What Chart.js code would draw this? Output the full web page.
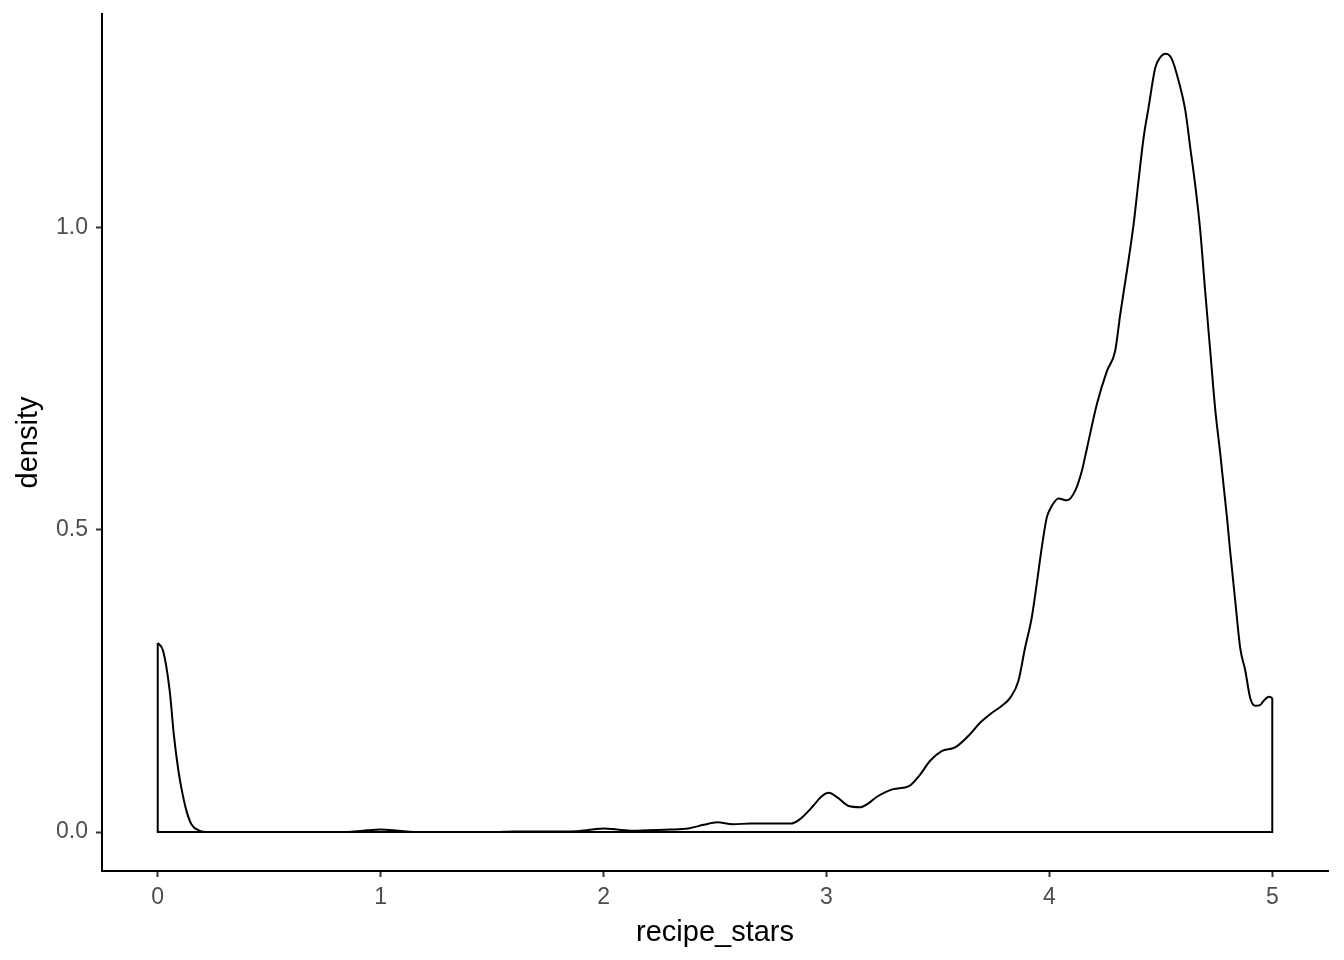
<!DOCTYPE html>
<html>
<head>
<meta charset="utf-8">
<script src="https://cdn.jsdelivr.net/npm/chart.js@4"></script>
<style>
  html, body { margin: 0; padding: 0; background: #ffffff; }
  canvas { display: block; }
</style>
</head>
<body>
<canvas id="c" width="1344" height="960"></canvas>
<script>
// recipe_stars grid (x) and estimated kernel density (y)
const starsX = [
  0, 0.024, 0.054, 0.072, 0.091, 0.106, 0.129, 0.151, 0.189, 0.22,
  0.3, 0.85, 0.92, 1.0, 1.08, 1.15, 1.5, 1.6, 1.85, 1.95,
  2.0, 2.06, 2.13, 2.2, 2.3, 2.38, 2.45, 2.51, 2.58, 2.66,
  2.75, 2.84, 2.88, 2.94, 2.975, 3.01, 3.05, 3.1, 3.15, 3.19,
  3.225, 3.3, 3.37, 3.42, 3.465, 3.517, 3.577, 3.644, 3.689, 3.734,
  3.79, 3.824, 3.861, 3.891, 3.921, 3.943, 3.966, 3.988, 4.004, 4.041,
  4.08, 4.116, 4.146, 4.168, 4.213, 4.258, 4.295, 4.318, 4.348, 4.378,
  4.4, 4.423, 4.445, 4.475, 4.497, 4.523, 4.55, 4.58, 4.61, 4.632,
  4.654, 4.677, 4.699, 4.722, 4.744, 4.767, 4.782, 4.797, 4.811, 4.834,
  4.856, 4.879, 4.901, 4.924, 4.945, 4.961, 4.985, 5.0
];
const densityY = [
  0.313, 0.300, 0.233, 0.162, 0.106, 0.073, 0.035, 0.013, 0.002, 0.0,
  0.0, 0.0, 0.002, 0.004, 0.002, 0.0, 0.0, 0.001, 0.001, 0.004,
  0.006, 0.004, 0.002, 0.003, 0.004, 0.006, 0.012, 0.016, 0.013, 0.014,
  0.014, 0.014, 0.021, 0.043, 0.058, 0.065, 0.057, 0.043, 0.041, 0.048,
  0.058, 0.071, 0.076, 0.095, 0.118, 0.134, 0.140, 0.162, 0.181, 0.195,
  0.210, 0.222, 0.250, 0.305, 0.355, 0.410, 0.471, 0.520, 0.535, 0.552,
  0.549, 0.565, 0.598, 0.634, 0.708, 0.763, 0.796, 0.857, 0.929, 1.006,
  1.078, 1.150, 1.199, 1.265, 1.282, 1.288, 1.279, 1.243, 1.194, 1.133,
  1.072, 0.995, 0.895, 0.795, 0.700, 0.625, 0.572, 0.520, 0.465, 0.382,
  0.305, 0.267, 0.222, 0.209, 0.210, 0.217, 0.224, 0.222
];
const xTicks = [0, 1, 2, 3, 4, 5];
const yTicks = [0.0, 0.5, 1.0];
const xLabel = 'recipe_stars';
const yLabel = 'density';

const curve = starsX.map((x, i) => ({ x: x, y: densityY[i] }));
const n = starsX.length;
const outline = [
  { x: starsX[0], y: densityY[0] },
  { x: starsX[0], y: 0 },
  { x: starsX[n - 1], y: 0 },
  { x: starsX[n - 1], y: densityY[n - 1] }
];

const FONT = "'Liberation Sans', Arial, sans-serif";

new Chart(document.getElementById('c'), {
  type: 'scatter',
  data: {
    datasets: [
      {
        data: curve, showLine: true, borderColor: '#000000', borderWidth: 2,
        pointRadius: 0, cubicInterpolationMode: 'monotone', fill: false
      },
      {
        data: outline, showLine: true, borderColor: '#000000', borderWidth: 2,
        pointRadius: 0, tension: 0, fill: false
      }
    ]
  },
  options: {
    responsive: false,
    animation: false,
    devicePixelRatio: 1,
    layout: { padding: { left: 0, right: 16, top: 14, bottom: 0 } },
    plugins: { legend: { display: false }, tooltip: { enabled: false } },
    scales: {
      x: {
        type: 'linear',
        min: -0.25, max: 5.25,
        afterBuildTicks: s => { s.ticks = xTicks.map(v => ({ value: v })); },
        afterFit: s => { s.height = 89; s.paddingLeft = 0; s.paddingRight = 0; },
        grid: { display: true, drawOnChartArea: false, drawTicks: true, tickLength: 6, tickColor: '#333333', tickWidth: 2 },
        border: { display: true, color: '#000000', width: 2 },
        ticks: {
          color: '#4D4D4D', padding: 7, maxRotation: 0, autoSkip: false,
          font: { family: FONT, size: 23 },
          callback: v => String(v)
        },
        title: {
          display: true, text: xLabel, color: '#000000',
          font: { family: FONT, size: 29 },
          padding: { top: 0, bottom: 9.6 }
        }
      },
      y: {
        type: 'linear',
        min: -0.0645, max: 1.354,
        afterBuildTicks: s => { s.ticks = yTicks.map(v => ({ value: v })); },
        afterFit: s => { s.width = 102; s.paddingTop = 0; s.paddingBottom = 0; },
        grid: { display: true, drawOnChartArea: false, drawTicks: true, tickLength: 6, tickColor: '#333333', tickWidth: 2 },
        border: { display: true, color: '#000000', width: 2 },
        ticks: {
          color: '#4D4D4D', padding: 8, autoSkip: false,
          font: { family: FONT, size: 23 },
          callback: v => Number(v).toFixed(1)
        },
        title: {
          display: true, text: yLabel, color: '#000000',
          font: { family: FONT, size: 29 },
          padding: { top: 11.6, bottom: 0 }
        }
      }
    }
  }
});
</script>
</body>
</html>
